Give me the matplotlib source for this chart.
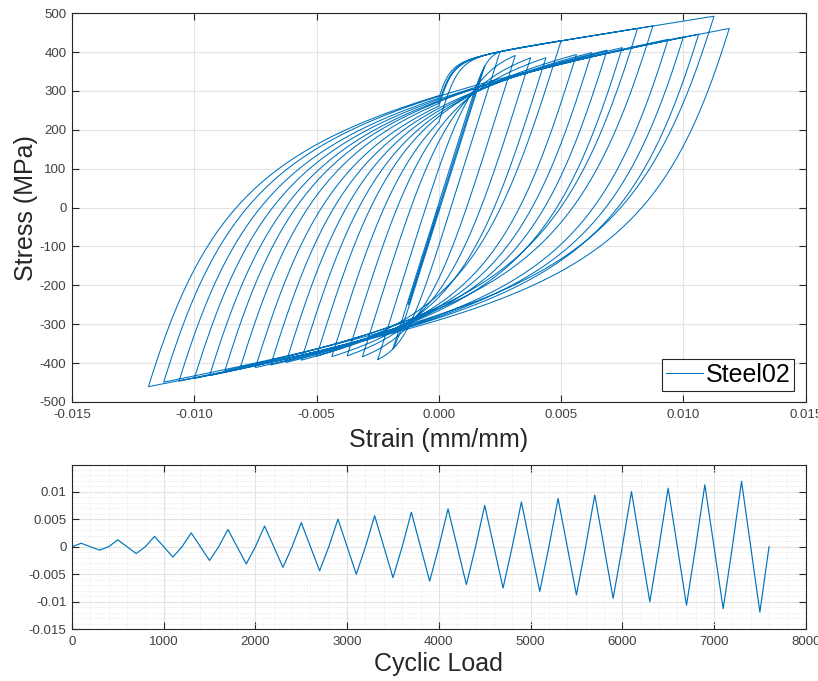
import numpy as np
import matplotlib.pyplot as plt

plt.rcParams['font.family'] = ['Liberation Sans', 'DejaVu Sans']
plt.rcParams['axes.unicode_minus'] = False

# peak strain of each cycle (0 -> +a -> -a -> 0, 400 steps a cycle)
cycle_amp = [0.000625, 0.00125, 0.001875, 0.0025, 0.003125, 0.00375, 0.004375,
             0.005, 0.005625, 0.00625, 0.006875, 0.0075, 0.008125, 0.00875,
             0.009375, 0.01, 0.010625, 0.01125, 0.011875]
cycle_len = 400
# cycles whose end-of-cycle zero point gives a tiny spurious reversal in the
# reference run (the next loop then climbs onto the upper hardening line)
glitch_cycles = [7, 12, 13, 17]

# Steel02 material (MPa)
Fy = 400.0
E0 = 200000.0
b = 0.05
R0 = 20.0
cR1 = 0.945
cR2 = 0.15

# vertices of the strain history
load_steps = [0]
load_strain = [0.0]
for k, a in enumerate(cycle_amp):
    s0 = k * cycle_len
    load_steps += [s0 + 100, s0 + 300, s0 + 400]
    load_strain += [a, -a, 0.0]


def steel02(strain):
    # Menegotto-Pinto steel, same update as OpenSees Steel02 (no isotropic hardening)
    epsy = Fy / E0
    Esh = b * E0
    kon = 0
    epsP = sigP = 0.0
    epsr = sigr = 0.0
    epsmax, epsmin = epsy, -epsy
    epss0 = sigs0 = epspl = 0.0
    out = np.zeros(len(strain))
    for i in range(1, len(strain)):
        eps = strain[i]
        deps = eps - epsP
        if kon == 0 or kon == 3:
            if abs(deps) < 1e-15:
                out[i] = sigP
                kon = 3
                continue
            epsmax, epsmin = epsy, -epsy
            if deps < 0:
                kon = 2
                epss0, sigs0, epspl = epsmin, -Fy, epsmin
            else:
                kon = 1
                epss0, sigs0, epspl = epsmax, Fy, epsmax
        if kon == 2 and deps > 0:
            kon = 1
            epsr, sigr = epsP, sigP
            epsmin = min(epsP, epsmin)
            epss0 = (Fy - Esh * epsy - sigr + E0 * epsr) / (E0 - Esh)
            sigs0 = Fy + Esh * (epss0 - epsy)
            epspl = epsmax
        elif kon == 1 and deps < 0:
            kon = 2
            epsr, sigr = epsP, sigP
            epsmax = max(epsP, epsmax)
            epss0 = (-Fy + Esh * epsy - sigr + E0 * epsr) / (E0 - Esh)
            sigs0 = -Fy + Esh * (epss0 + epsy)
            epspl = epsmin
        xi = abs((epspl - epss0) / epsy)
        R = R0 * (1.0 - cR1 * xi / (cR2 + xi))
        epsrat = (eps - epsr) / (epss0 - epsr)
        dum = (1.0 + abs(epsrat) ** R) ** (1.0 / R)
        sig = b * epsrat + (1.0 - b) * epsrat / dum
        sig = sig * (sigs0 - sigr) + sigr
        out[i] = sig
        epsP, sigP = eps, sig
    return out


steps = np.arange(load_steps[-1] + 1)
strain = np.interp(steps, load_steps, load_strain)
strain = np.insert(strain, [c * cycle_len + 1 for c in glitch_cycles], -1e-9)
stress = steel02(strain)

blue = '#0072BD'
dark = '#262626'
gridc = '#e3e3e3'

fig = plt.figure(figsize=(8.18, 6.81), dpi=100)

#Stress-strain
ax1 = fig.add_axes([0.088, 0.4097, 0.897, 0.571])
ax1.plot(strain, stress, color=blue, lw=0.75, label='Steel02')
ax1.set_xlim(-0.015, 0.015)
ax1.set_ylim(-500, 500)
ax1.set_xticks(np.arange(-0.015, 0.0151, 0.005))
ax1.set_xticklabels(['-0.015', '-0.010', '-0.005', '0.000', '0.005', '0.010', '0.015'])
ax1.set_yticks(np.arange(-500, 501, 100))
ax1.grid(True, color=gridc, lw=0.8)
ax1.set_axisbelow(True)
ax1.set_xlabel('Strain (mm/mm)', fontsize=18, color=dark, labelpad=5)
ax1.set_ylabel('Stress (MPa)', fontsize=18, color=dark, labelpad=1)
leg = ax1.legend(loc='lower right', fontsize=18, fancybox=False, framealpha=1,
                 edgecolor=dark, handlelength=1.5, handletextpad=0.1,
                 borderpad=0.15, borderaxespad=0.45)
leg.get_frame().set_linewidth(0.8)

#Strain history
ax2 = fig.add_axes([0.088, 0.0759, 0.897, 0.241])
ax2.plot(load_steps, load_strain, color=blue, lw=0.85)
ax2.set_xlim(0, 8000)
ax2.set_ylim(-0.015, 0.0148)
ax2.set_xticks(np.arange(0, 8001, 1000))
ax2.set_yticks([-0.015, -0.01, -0.005, 0, 0.005, 0.01])
ax2.set_yticklabels(['-0.015', '-0.01', '-0.005', '0', '0.005', '0.01'])
ax2.set_xticks(np.arange(0, 8001, 200), minor=True)
ax2.set_yticks(np.arange(-0.015, 0.0148, 0.001), minor=True)
ax2.grid(True, which='major', color=gridc, lw=0.8)
ax2.grid(True, which='minor', color='#e6e6e6', lw=0.7, ls=':')
ax2.set_axisbelow(True)
ax2.set_xlabel('Cyclic Load', fontsize=18, color=dark, labelpad=3)

for ax in (ax1, ax2):
    ax.tick_params(which='major', direction='in', top=True, right=True, length=5,
                   width=0.8, color=dark, labelcolor='#404040', labelsize=9.5, pad=4)
    ax.tick_params(which='minor', length=0, top=True, right=True)
    ax.tick_params(axis='x', which='major', pad=5)
    for sp in ax.spines.values():
        sp.set_color(dark)
        sp.set_linewidth(0.8)

fig.savefig('out.png', dpi=100)
